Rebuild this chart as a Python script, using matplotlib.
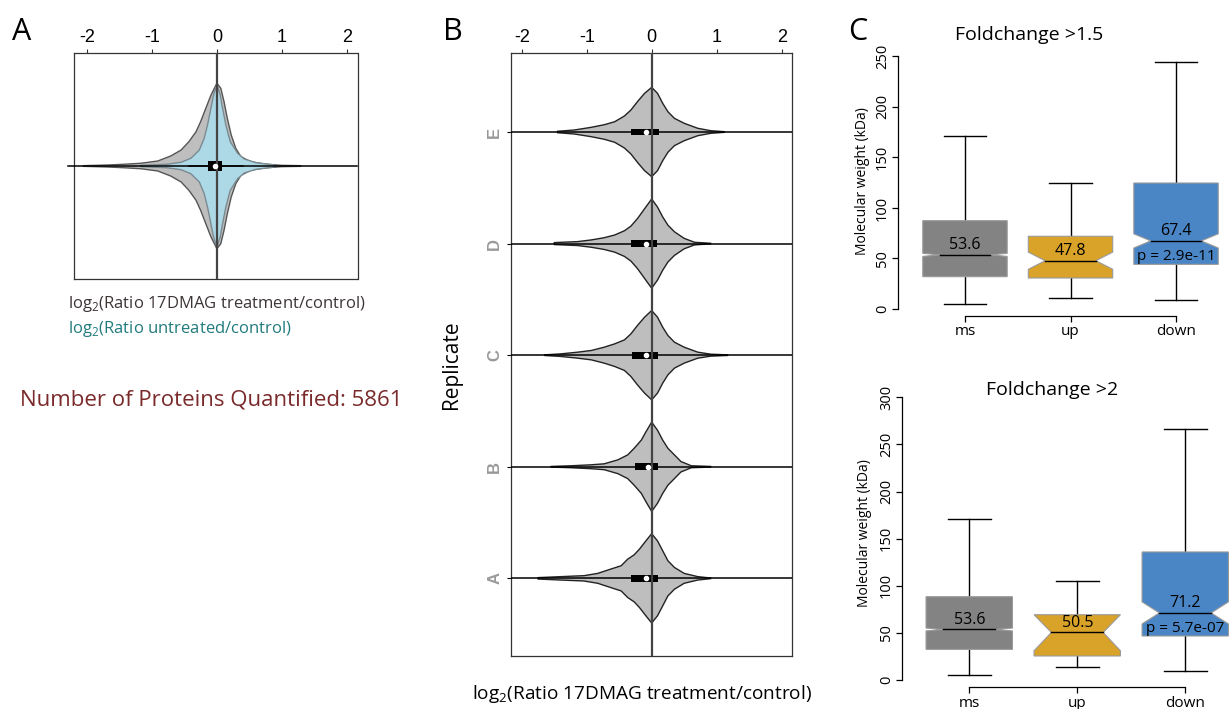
import numpy as np
import matplotlib
matplotlib.use('Agg')
import matplotlib.pyplot as plt
from matplotlib.patches import Rectangle, Polygon

plt.rcParams['font.family'] = ['Open Sans', 'DejaVu Sans']
plt.rcParams['mathtext.fontset'] = 'custom'
plt.rcParams['mathtext.rm'] = 'Open Sans'

# ------------------------------------------------------------------ data
log2_ticks = [-2, -1, 0, 1, 2]

# Panel A: relative density profiles of log2 ratios
a_treat_x = [-2.05, -1.68, -1.43, -1.17, -0.91, -0.71, -0.55, -0.43, -0.32, -0.25,
             -0.17, -0.09, 0.0, 0.06, 0.11, 0.16, 0.22, 0.29, 0.37, 0.52, 0.73, 0.99, 1.29]
a_treat_d = [0.004, 0.012, 0.021, 0.033, 0.06, 0.121, 0.193, 0.294, 0.415, 0.536,
             0.698, 0.859, 1.0, 0.94, 0.777, 0.577, 0.375, 0.214, 0.112, 0.052, 0.024, 0.008, 0.004]
a_untr_x = [-1.17, -0.76, -0.55, -0.40, -0.27, -0.195, -0.144, -0.092, -0.051, 0.0,
            0.051, 0.087, 0.138, 0.205, 0.318, 0.42, 0.6, 0.88]
a_untr_d = [0.008, 0.021, 0.045, 0.093, 0.193, 0.335, 0.496, 0.698, 0.859, 0.979,
            0.859, 0.698, 0.496, 0.294, 0.154, 0.085, 0.04, 0.012]
a_q1, a_q3, a_median = -0.144, 0.077, -0.026
a_whisk_lo, a_whisk_hi = -0.436, 0.395

# Panel B: replicate density profiles (relative) and box stats
replicates = ['A', 'B', 'C', 'D', 'E']
rep_A_x = [-1.75, -1.40, -1.04, -0.83, -0.63, -0.47, -0.37, -0.27, -0.19, -0.09, 0.0,
           0.09, 0.17, 0.25, 0.35, 0.50, 0.71, 0.91]
rep_A_d = [0.016, 0.038, 0.06, 0.111, 0.207, 0.282, 0.429, 0.527, 0.651, 0.838, 1.0,
           0.838, 0.616, 0.393, 0.244, 0.111, 0.038, 0.007]
rep_B_x = [-1.55, -1.24, -0.93, -0.73, -0.52, -0.37, -0.27, -0.16, -0.09, 0.0,
           0.09, 0.17, 0.25, 0.35, 0.45, 0.61, 0.91]
rep_B_d = [0.007, 0.022, 0.044, 0.066, 0.155, 0.265, 0.413, 0.596, 0.779, 1.0,
           0.817, 0.596, 0.413, 0.265, 0.117, 0.022, 0.007]
rep_C_x = [-1.65, -1.40, -1.14, -0.93, -0.73, -0.57, -0.42, -0.32, -0.22, -0.11, 0.0,
           0.09, 0.17, 0.25, 0.35, 0.50, 0.71, 0.91, 1.17]
rep_C_d = [0.007, 0.029, 0.067, 0.105, 0.179, 0.253, 0.342, 0.477, 0.664, 0.85, 1.0,
           0.85, 0.626, 0.441, 0.291, 0.179, 0.067, 0.022, 0.007]
rep_D_x = [-1.50, -1.14, -0.93, -0.73, -0.57, -0.42, -0.32, -0.22, -0.11, 0.0,
           0.09, 0.17, 0.25, 0.35, 0.50, 0.66, 0.91]
rep_D_d = [0.022, 0.044, 0.082, 0.132, 0.192, 0.287, 0.391, 0.558, 0.779, 1.0,
           0.817, 0.596, 0.413, 0.265, 0.117, 0.029, 0.007]
rep_E_x = [-1.45, -1.19, -0.93, -0.73, -0.57, -0.42, -0.32, -0.22, -0.11, 0.0,
           0.09, 0.17, 0.25, 0.35, 0.50, 0.71, 0.91, 1.12]
rep_E_d = [0.016, 0.045, 0.105, 0.163, 0.23, 0.358, 0.492, 0.678, 0.866, 1.0,
           0.866, 0.642, 0.454, 0.306, 0.195, 0.083, 0.029, 0.007]
rep_q1 = [-0.32, -0.26, -0.31, -0.32, -0.32]
rep_q3 = [0.09, 0.09, 0.10, 0.08, 0.11]
rep_median = [-0.08, -0.05, -0.09, -0.09, -0.08]

# Panel C: molecular weight box statistics (kDa)
mw_groups = ['ms', 'up', 'down']
fc15_whislo = [5.0, 10.6, 8.9]
fc15_q1 = [32.0, 30.7, 44.2]
fc15_med = [53.6, 47.8, 67.4]
fc15_q3 = [87.4, 72.0, 124.7]
fc15_whishi = [171.5, 124.4, 244.0]
fc15_notch_lo = [52.1, 39.3, 60.4]
fc15_notch_hi = [55.1, 56.3, 74.4]
fc15_pval = 'p = 2.9e-11'

fc2_whislo = [5.0, 13.4, 9.2]
fc2_q1 = [32.5, 25.5, 46.7]
fc2_med = [53.6, 50.5, 71.2]
fc2_q3 = [88.4, 69.3, 135.9]
fc2_whishi = [171.2, 104.7, 266.0]
fc2_notch_lo = [52.1, 31.0, 59.5]
fc2_notch_hi = [55.1, 69.3, 82.9]
fc2_pval = 'p = 5.7e-07'

group_colors = ['#838383', '#D9A228', '#4A86C6']

# ------------------------------------------------------------------ figure
W, H = 1229, 709
fig = plt.figure(figsize=(W / 100, H / 100), dpi=100)


def px_axes(left, top, right, bottom):
    return fig.add_axes([left / W, 1 - bottom / H, (right - left) / W, (bottom - top) / H])


def violin(ax, x, d, center, scale, face, edge, lw=1.0, z=2):
    x = np.asarray(x, float)
    d = np.asarray(d, float) * scale
    xs = np.concatenate([x, x[::-1]])
    ys = np.concatenate([center + d, center - d[::-1]])
    ax.add_patch(Polygon(np.column_stack([xs, ys]), closed=True, facecolor=face,
                         edgecolor=edge, linewidth=lw, zorder=z, joinstyle='round'))


tick_font = ['Liberation Sans', 'DejaVu Sans']

# ---------------- Panel A
axA = px_axes(74, 53, 357.5, 279)
axA.set_xlim(-2.195, 2.16)
axA.set_ylim(-1.366, 1.366)
violin(axA, a_treat_x, a_treat_d, 0, 1.0, '#BEBEBE', '#555555', z=2)
violin(axA, a_untr_x, a_untr_d, 0, 1.0, '#ADD8E6', '#7a8a90', z=3)
axA.plot([-2.29, 2.16], [0, 0], color='black', lw=1.1, zorder=4, clip_on=False)
axA.plot([a_whisk_lo, a_whisk_hi], [0, 0], color='black', lw=1.1, zorder=4)
axA.add_patch(Rectangle((a_q1, -0.064), a_q3 - a_q1, 0.128, facecolor='black',
                        edgecolor='none', zorder=5))
axA.axvline(0, color='#444444', lw=1.6, zorder=6)
axA.plot([a_median], [0], 'o', color='white', ms=3, zorder=7)
axA.xaxis.tick_top()
axA.set_xticks(log2_ticks)
axA.set_xticklabels([str(t) for t in log2_ticks], fontfamily=tick_font)
axA.tick_params(axis='x', length=3, width=0.8, labelsize=13, pad=2, color='#333333')
axA.set_yticks([])
for s in axA.spines.values():
    s.set_color('#333333')
    s.set_linewidth(0.9)

fig.text(12 / W, 1 - 32 / H, 'A', fontsize=22, ha='left', va='center')
fig.text(68 / W, 1 - 304 / H, r'log$_\mathregular{2}$(Ratio 17DMAG treatment/control)',
         fontsize=12, color='#3d3535', ha='left', va='center')
fig.text(68 / W, 1 - 329 / H, r'log$_\mathregular{2}$(Ratio untreated/control)',
         fontsize=12, color='#217b7c', ha='left', va='center')
fig.text(20 / W, 1 - 400 / H, 'Number of Proteins Quantified: 5861',
         fontsize=16, color='#7a2a2a', ha='left', va='center')

# ---------------- Panel B
axB = px_axes(510.7, 53, 791.7, 656)
axB.set_xlim(-2.17, 2.155)
axB.set_ylim(0.304, 5.708)
rep_x = [rep_A_x, rep_B_x, rep_C_x, rep_D_x, rep_E_x]
rep_d = [rep_A_d, rep_B_d, rep_C_d, rep_D_d, rep_E_d]
for i in range(len(replicates)):
    pos = i + 1
    violin(axB, rep_x[i], rep_d[i], pos, 0.40, '#BEBEBE', '#222222', z=2)
    axB.axhline(pos, color='black', lw=1.1, zorder=3)
    axB.add_patch(Rectangle((rep_q1[i], pos - 0.03), rep_q3[i] - rep_q1[i], 0.06,
                            facecolor='black', edgecolor='none', zorder=4))
    axB.plot([rep_median[i]], [pos], 'o', color='white', ms=3, zorder=6)
axB.axvline(0, color='#444444', lw=1.6, zorder=5)
axB.xaxis.tick_top()
axB.set_xticks(log2_ticks)
axB.set_xticklabels([str(t) for t in log2_ticks], fontfamily=tick_font)
axB.tick_params(axis='x', length=3, width=0.8, labelsize=13, pad=2, color='#333333')
axB.set_yticks(range(1, len(replicates) + 1))
axB.set_yticklabels(replicates, rotation=90, va='center', color='#999999',
                    fontweight='bold', fontsize=12, fontfamily=tick_font)
axB.tick_params(axis='y', length=3, width=0.8, pad=3)
for s in axB.spines.values():
    s.set_color('#333333')
    s.set_linewidth(0.9)

fig.text(443 / W, 1 - 32 / H, 'B', fontsize=22, ha='left', va='center')
fig.text(452 / W, 1 - 365 / H, 'Replicate', rotation=90, fontsize=15,
         ha='center', va='center')
fig.text(642 / W, 1 - 694 / H, r'log$_\mathregular{2}$(Ratio 17DMAG treatment/control)',
         fontsize=13.7, ha='center', va='center')


# ---------------- Panel C
def notched_boxes(ax, wlo, q1, med, q3, whi, nlo, nhi, pval, ymax, label_off):
    hw, nf, sw = 0.4, 0.6, 0.2
    for i in range(len(mw_groups)):
        p = i + 1
        xs = [p - hw, p + hw, p + hw, p + nf * hw, p + hw, p + hw, p - hw, p - hw, p - nf * hw, p - hw]
        ys = [q1[i], q1[i], nlo[i], med[i], nhi[i], q3[i], q3[i], nhi[i], med[i], nlo[i]]
        ax.add_patch(Polygon(np.column_stack([xs, ys]), closed=True, facecolor=group_colors[i],
                             edgecolor='#9a9a9a', linewidth=0.8, zorder=3))
        ax.plot([p - nf * hw, p + nf * hw], [med[i], med[i]], color='black', lw=1.0, zorder=4)
        ax.plot([p, p], [q3[i], whi[i]], color='black', lw=1.0, zorder=2)
        ax.plot([p, p], [wlo[i], q1[i]], color='black', lw=1.0, zorder=2)
        ax.plot([p - sw, p + sw], [whi[i], whi[i]], color='black', lw=1.0, zorder=2)
        ax.plot([p - sw, p + sw], [wlo[i], wlo[i]], color='black', lw=1.0, zorder=2)
        ax.annotate(f'{med[i]:.1f}', (p, med[i]), xytext=(0, label_off), textcoords='offset points',
                    ha='center', va='center', fontsize=11.5, zorder=5)
    ax.annotate(pval, (3, med[2]), xytext=(0, -11), textcoords='offset points',
                ha='center', va='center', fontsize=11, zorder=5)
    ax.set_xticks(range(1, 4))
    ax.set_xticklabels(mw_groups, fontsize=11)
    ax.set_yticks(np.arange(0, ymax + 1, 50))
    ax.set_yticklabels([str(int(v)) for v in np.arange(0, ymax + 1, 50)], rotation=90,
                       va='center', fontsize=10.5)
    ax.tick_params(axis='both', length=4, width=0.9, pad=2)
    ax.spines['top'].set_visible(False)
    ax.spines['right'].set_visible(False)
    ax.spines['left'].set_bounds(0, ymax)
    ax.spines['bottom'].set_bounds(1, 3)
    for s in ('left', 'bottom'):
        ax.spines[s].set_linewidth(0.9)


axC1 = px_axes(898.3, 50, 1229, 316)
axC1.set_xlim(0.368, 3.502)
axC1.set_ylim(-6.9, 256.3)
notched_boxes(axC1, fc15_whislo, fc15_q1, fc15_med, fc15_q3, fc15_whishi,
              fc15_notch_lo, fc15_notch_hi, fc15_pval, 250, 7)

axC2 = px_axes(902.3, 390, 1229, 687.3)
axC2.set_xlim(0.380, 3.405)
axC2.set_ylim(-7.75, 307.8)
notched_boxes(axC2, fc2_whislo, fc2_q1, fc2_med, fc2_q3, fc2_whishi,
              fc2_notch_lo, fc2_notch_hi, fc2_pval, 300, 7)

fig.text(848 / W, 1 - 32 / H, 'C', fontsize=22, ha='left', va='center')
fig.text(1029 / W, 1 - 35 / H, 'Foldchange >1.5', fontsize=14, ha='center', va='center')
fig.text(1052 / W, 1 - 390 / H, 'Foldchange >2', fontsize=14, ha='center', va='center')
fig.text(863 / W, 1 - 181 / H, 'Molecular weight (kDa)', rotation=90, fontsize=10,
         ha='center', va='center')
fig.text(865 / W, 1 - 533 / H, 'Molecular weight (kDa)', rotation=90, fontsize=10,
         ha='center', va='center')

fig.savefig('out.png', dpi=100)
